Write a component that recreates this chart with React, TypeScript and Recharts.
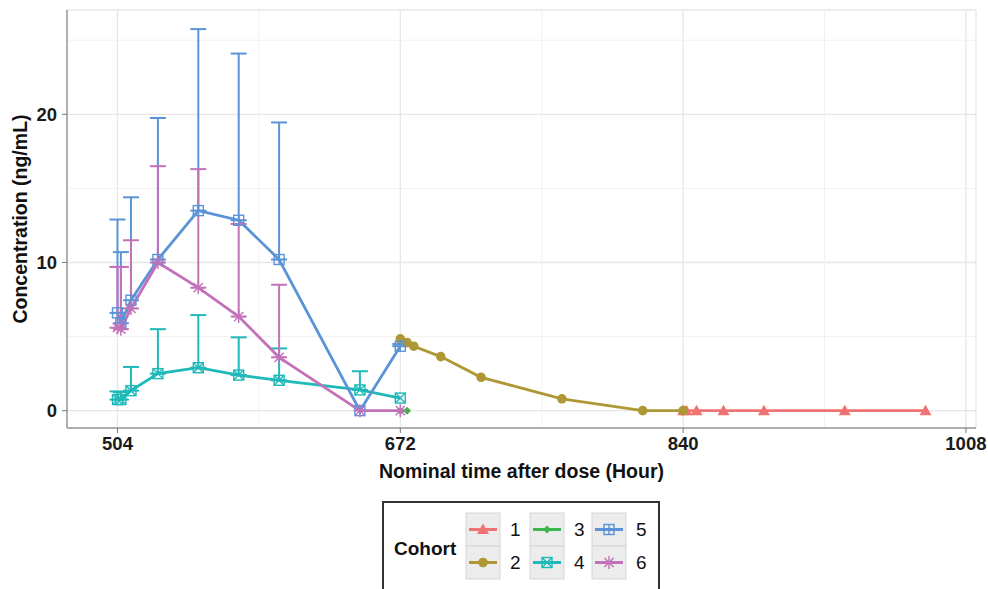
import {
  ComposedChart,
  Line,
  XAxis,
  YAxis,
  CartesianGrid,
  ReferenceLine,
  ErrorBar,
  Label,
} from "recharts";

// sampling times (hours after first dose)
const cohort1Time = [840, 842, 848, 864, 888, 936, 984];
const cohort1Conc = [0, 0, 0, 0, 0, 0, 0];

const cohort2Time = [672, 676, 680, 696, 720, 768, 816, 840];
const cohort2Conc = [4.85, 4.6, 4.35, 3.65, 2.25, 0.8, 0, 0];

const cohort3Time = [672, 676];
const cohort3Conc = [0, 0];

const cohortTime = [504, 506, 512, 528, 552, 576, 600, 648, 672];
const cohort4Conc = [0.75, 0.75, 1.35, 2.5, 2.9, 2.4, 2.05, 1.4, 0.85];
const cohort4Sd = [0.55, 0.5, 1.6, 3.0, 3.55, 2.55, 2.15, 1.26, null];
const cohort5Conc = [6.6, 5.9, 7.45, 10.2, 13.5, 12.85, 10.2, 0, 4.35];
const cohort5Sd = [6.3, 4.8, 6.95, 9.55, 12.25, 11.25, 9.25, null, 0.15];
const cohort6Conc = [5.6, 5.5, 6.9, 10.0, 8.3, 6.35, 3.6, 0, 0];
const cohort6Sd = [4.1, 4.2, 4.6, 6.5, 8.0, 6.25, 4.9, null, null];

const xTicks = [504, 672, 840, 1008];
const xMinor = [588, 756, 924];
const yTicks = [0, 10, 20];
const yMinor = [5, 15, 25];

const cohortNames = ["1", "2", "3", "4", "5", "6"];
const colors = ["#F07373", "#AE9734", "#3DB54B", "#1EB9B9", "#5B93D7", "#C371B8"];
const shapes = ["triangle", "circle", "diamond", "squarecross", "squareplus", "asterisk"];

const FONT = "'Liberation Sans', Arial, sans-serif";
const X_DOMAIN = [474, 1014];
const Y_DOMAIN = [-1.17, 27.04];

function build(time: number[], conc: number[], sd?: (number | null)[]) {
  return time.map((t, i) => ({
    time: t,
    conc: conc[i],
    err: sd && sd[i] != null ? [0, sd[i]] : null,
  }));
}

const series = [
  build(cohort1Time, cohort1Conc),
  build(cohort2Time, cohort2Conc),
  build(cohort3Time, cohort3Conc),
  build(cohortTime, cohort4Conc, cohort4Sd),
  build(cohortTime, cohort5Conc, cohort5Sd),
  build(cohortTime, cohort6Conc, cohort6Sd),
];

function Marker({ shape, cx, cy, color }: { shape: string; cx: number; cy: number; color: string }) {
  if (cx == null || cy == null) return null;
  switch (shape) {
    case "triangle":
      return (
        <polygon
          points={`${cx},${cy - 6} ${cx + 6},${cy + 4.5} ${cx - 6},${cy + 4.5}`}
          fill={color}
        />
      );
    case "circle":
      return <circle cx={cx} cy={cy} r={4.8} fill={color} />;
    case "diamond":
      return (
        <polygon
          points={`${cx},${cy - 4} ${cx + 4},${cy} ${cx},${cy + 4} ${cx - 4},${cy}`}
          fill={color}
        />
      );
    case "squarecross":
      return (
        <g stroke={color} strokeWidth={1.4} fill="none">
          <rect x={cx - 5} y={cy - 5} width={10} height={10} />
          <line x1={cx - 5} y1={cy - 5} x2={cx + 5} y2={cy + 5} />
          <line x1={cx - 5} y1={cy + 5} x2={cx + 5} y2={cy - 5} />
        </g>
      );
    case "squareplus":
      return (
        <g stroke={color} strokeWidth={1.4} fill="none">
          <rect x={cx - 5} y={cy - 5} width={10} height={10} />
          <line x1={cx} y1={cy - 5} x2={cx} y2={cy + 5} />
          <line x1={cx - 5} y1={cy} x2={cx + 5} y2={cy} />
        </g>
      );
    case "asterisk":
      return (
        <g stroke={color} strokeWidth={1.4}>
          <line x1={cx} y1={cy - 6.5} x2={cx} y2={cy + 6.5} />
          <line x1={cx - 6.5} y1={cy} x2={cx + 6.5} y2={cy} />
          <line x1={cx - 4.6} y1={cy - 4.6} x2={cx + 4.6} y2={cy + 4.6} />
          <line x1={cx - 4.6} y1={cy + 4.6} x2={cx + 4.6} y2={cy - 4.6} />
        </g>
      );
    default:
      return null;
  }
}

function CohortLegend() {
  const cols = [0, 1, 2];
  const rows = [0, 1];
  const keyX = [84, 148, 210];
  const keyW = 34;
  return (
    <svg width={278} height={90} style={{ display: "block" }}>
      <rect x={1} y={1} width={276} height={100} fill="#fff" stroke="#333" strokeWidth={2} />
      <text x={12} y={54} fontFamily={FONT} fontWeight="bold" fontSize={19} fill="#111">
        Cohort
      </text>
      {cols.map((c) =>
        rows.map((r) => {
          const idx = c * 2 + r;
          const x = keyX[c];
          const y = 12 + r * 33;
          return (
            <g key={idx}>
              <rect x={x} y={y} width={keyW} height={33} fill="#ececec" stroke="#d6d6d6" />
              <line
                x1={x + 3}
                y1={y + 16.5}
                x2={x + keyW - 3}
                y2={y + 16.5}
                stroke={colors[idx]}
                strokeWidth={3}
              />
              <Marker shape={shapes[idx]} cx={x + keyW / 2} cy={y + 16.5} color={colors[idx]} />
              <text
                x={x + keyW + 10}
                y={y + 23}
                fontFamily={FONT}
                fontSize={19}
                fill="#111"
              >
                {cohortNames[idx]}
              </text>
            </g>
          );
        })
      )}
    </svg>
  );
}

const tickStyle = { fontFamily: FONT, fontWeight: "bold", fontSize: 18.5, fill: "#1a1a1a" };

export default function App() {
  return (
    <div style={{ position: "absolute", left: 0, top: 0, width: 988, height: 589, background: "#fff", overflow: "hidden" }}>
      <ComposedChart
        width={988}
        height={589}
        margin={{ top: 10, right: 12, left: 12, bottom: 101 }}
      >
        <CartesianGrid stroke="#e6e6e6" strokeWidth={1.3} />
        {xMinor.map((v) => (
          <ReferenceLine key={`vx${v}`} x={v} stroke="#f5f0f0" strokeWidth={1} />
        ))}
        {yMinor.map((v) => (
          <ReferenceLine key={`hy${v}`} y={v} stroke="#f5f0f0" strokeWidth={1} />
        ))}
        <XAxis
          dataKey="time"
          type="number"
          domain={X_DOMAIN}
          ticks={xTicks}
          allowDataOverflow
          height={60}
          tickSize={5}
          tickMargin={4}
          tick={tickStyle}
          tickLine={{ stroke: "#7a7a7a" }}
          axisLine={{ stroke: "#9a9a9a", strokeWidth: 1.5 }}
        >
          <Label
            value="Nominal time after dose (Hour)"
            position="insideBottom"
            offset={10}
            style={{ fontFamily: FONT, fontWeight: "bold", fontSize: 19.5, fill: "#111" }}
          />
        </XAxis>
        <XAxis
          xAxisId="top"
          orientation="top"
          type="number"
          domain={X_DOMAIN}
          allowDataOverflow
          height={0}
          tick={false}
          tickLine={false}
          axisLine={{ stroke: "#9a9a9a", strokeWidth: 1.5 }}
        />
        <YAxis
          type="number"
          domain={Y_DOMAIN}
          ticks={yTicks}
          allowDataOverflow
          width={55}
          tickSize={5}
          tickMargin={5}
          tick={tickStyle}
          tickLine={{ stroke: "#7a7a7a" }}
          axisLine={{ stroke: "#9a9a9a", strokeWidth: 1.5 }}
        >
          <Label
            value="Concentration (ng/mL)"
            angle={-90}
            position="insideLeft"
            offset={8}
            style={{ fontFamily: FONT, fontWeight: "bold", fontSize: 19.5, fill: "#111", textAnchor: "middle" }}
          />
        </YAxis>
        <YAxis
          yAxisId="right"
          orientation="right"
          type="number"
          domain={Y_DOMAIN}
          allowDataOverflow
          width={0}
          tick={false}
          tickLine={false}
          axisLine={{ stroke: "#9a9a9a", strokeWidth: 1.5 }}
        />
        {series.map((data, idx) => (
          <Line
            key={cohortNames[idx]}
            data={data}
            dataKey="conc"
            name={cohortNames[idx]}
            stroke={colors[idx]}
            strokeWidth={2.8}
            isAnimationActive={false}
            activeDot={false}
            dot={(p: any) => (
              <Marker
                key={`${idx}-${p.index}`}
                shape={shapes[idx]}
                cx={p.cx}
                cy={p.cy}
                color={colors[idx]}
              />
            )}
          >
            {idx >= 3 && (
              <ErrorBar
                dataKey="err"
                direction="y"
                width={8}
                stroke={colors[idx]}
                strokeWidth={2}
                isAnimationActive={false}
              />
            )}
          </Line>
        ))}
      </ComposedChart>
      <div style={{ position: "absolute", left: 382, top: 501 }}>
        <CohortLegend />
      </div>
    </div>
  );
}
